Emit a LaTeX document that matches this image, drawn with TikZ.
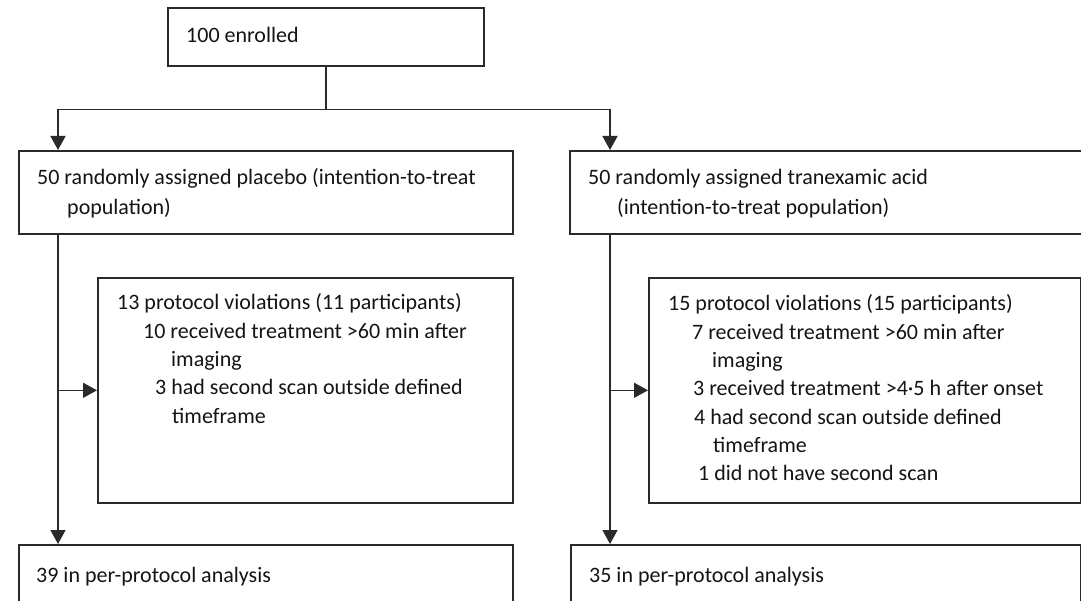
\documentclass[tikz,border=0pt]{standalone}
\usepackage{fontspec}
\setmainfont{Carlito}
\usetikzlibrary{arrows.meta}
\definecolor{linec}{HTML}{2A2A2A}
\definecolor{txtc}{HTML}{141414}
\newcommand\Ln[2][0]{\hbox{\hskip#1pt #2}}
\begin{document}
\begin{tikzpicture}[x=1pt,y=-1pt,
  box/.style={draw=linec,line width=1.6pt,rectangle,inner sep=0pt,anchor=north west},
  txt/.style={anchor=base west,inner sep=0pt,text=txtc,font=\fontsize{22}{28.3}\selectfont},
  txtw/.style={txt,font=\fontsize{22}{30}\selectfont},
  arr/.style={draw=linec,line width=1.5pt,-{Triangle[length=14pt,width=15pt]}},
  ln/.style={draw=linec,line width=1.5pt}]
\useasboundingbox (0,0) rectangle (1081,601);
\clip (0,0) rectangle (1081,601);
% boxes
\node[box,minimum width=316pt,minimum height=58pt] (enr) at (167,7) {};
\node[box,minimum width=494pt,minimum height=83pt] (plc) at (18,150) {};
\node[box,minimum width=530pt,minimum height=83pt] (txa) at (569,150) {};
\node[box,minimum width=415pt,minimum height=225pt] (viol1) at (97,277) {};
\node[box,minimum width=432pt,minimum height=225pt] (viol2) at (648,277) {};
\node[box,minimum width=494pt,minimum height=80pt] (pp1) at (18,544) {};
\node[box,minimum width=510pt,minimum height=80pt] (pp2) at (570,544) {};
% texts
\node[txt] (enrT) at (186,43) {100 enrolled};
\node[txtw] (plcT) at (37,185) {\vtop{\Ln{50 randomly assigned placebo (intention-to-treat}\Ln[30]{population)}}};
\node[txtw] (txaT) at (588,185) {\vtop{\Ln{50 randomly assigned tranexamic acid}\Ln[29]{(intention-to-treat population)}}};
\node[txt] (viol1T) at (117,310) {\vtop{%
  \Ln{13 protocol violations (11 participants)}%
  \Ln[26]{10 received treatment >60 min after}%
  \Ln[54]{imaging}%
  \Ln[38]{3 had second scan outside defined}%
  \Ln[55]{timeframe}}};
\node[txt] (viol2T) at (668,311) {\vtop{%
  \Ln{15 protocol violations (15 participants)}%
  \Ln[24]{7 received treatment >60 min after}%
  \Ln[44]{imaging}%
  \Ln[25]{3 received treatment >4·5 h after onset}%
  \Ln[26]{4 had second scan outside defined}%
  \Ln[45]{timeframe}%
  \Ln[30]{1 did not have second scan}}};
\node[txt] (pp1T) at (36,582) {39 in per-protocol analysis};
\node[txt] (pp2T) at (589,582) {35 in per-protocol analysis};
% connectors
\draw[ln] (enr.south) -- ++(0,43) coordinate (split);
\draw[arr] (split) -| ([xshift=40pt]plc.north west);
\draw[arr] (split) -| ([xshift=41pt]txa.north west);
\coordinate (lx) at ([xshift=40pt]plc.south west);
\coordinate (rx) at ([xshift=41pt]txa.south west);
\draw[arr] (lx) -- (lx |- pp1.north);
\draw[arr] (rx) -- (rx |- pp2.north);
\draw[arr] (viol1.west -| lx) -- (viol1.west);
\draw[arr] (viol2.west -| rx) -- (viol2.west);
\end{tikzpicture}
\end{document}
